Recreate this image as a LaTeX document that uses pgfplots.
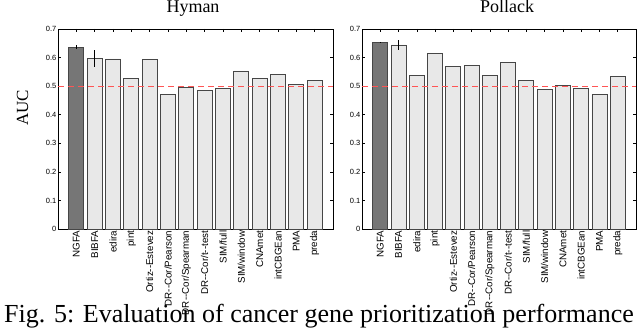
\documentclass[border=0pt]{standalone}
\usepackage{pgfplots}
\pgfplotsset{compat=1.18}
\usepackage{fontspec}
\setmainfont{Liberation Serif}
\newfontfamily\sans{Liberation Sans}
\definecolor{darkbar}{RGB}{118,118,118}
\definecolor{lightbar}{RGB}{232,232,232}
\definecolor{baredge}{RGB}{70,70,70}
\definecolor{refred}{RGB}{255,85,85}
\pgfplotsset{
  myaxis/.style={
    scale only axis, width=275pt, height=200pt,
    xmin=0, xmax=15, ymin=0, ymax=0.7,
    xtick={1,...,14},
    xticklabels={NGFA,BIBFA,edira,pint,Ortiz--Estevez,DR--Cor/Pearson,DR--Cor/Spearman,DR--Cor/t--test,SIM/full,SIM/window,CNAmet,intCBGEan,PMA,preda},
    ytick={0,0.1,0.2,0.3,0.4,0.5,0.6,0.7},
    yticklabels={0,0.1,0.2,0.3,0.4,0.5,0.6,0.7},
    x tick label style={font=\sans\fontsize{9.8}{10}\selectfont, rotate=90, anchor=east, inner sep=1.5pt},
    y tick label style={font=\sans\fontsize{7.5}{8}\selectfont, inner sep=1.5pt},
    /pgf/number format/assume math mode=true,
    tick align=inside, major tick length=3pt,
    tick style={black, line width=0.6pt},
    axis line style={black, line width=0.9pt},
    clip=false,
  },
  darkb/.style={ybar, bar shift=0pt, bar width=15pt, fill=darkbar, draw=baredge, line width=0.9pt},
  lightb/.style={ybar, bar shift=0pt, bar width=15pt, fill=lightbar, draw=baredge, line width=0.9pt},
  errb/.style={draw=none, mark=none, forget plot, error bars/.cd, y dir=both, y explicit, error mark=none, error bar style={black, line width=1.1pt}},
}
\begin{document}
\begin{tikzpicture}[x=1pt,y=1pt]
\useasboundingbox (0,0) rectangle (640,336);
% Hyman
\begin{axis}[myaxis, at={(58pt,107pt)}, anchor=south west]
\addplot[darkb] coordinates {(1,0.637)};
\addplot[lightb] coordinates {(2,0.597) (3,0.595) (4,0.526) (5,0.593) (6,0.471) (7,0.495) (8,0.485) (9,0.492) (10,0.553) (11,0.527) (12,0.541) (13,0.505) (14,0.519)};
\addplot[errb] coordinates {(1,0.637) +- (0,0.006) (2,0.597) +- (0,0.030)};
\addplot[refred, dashed, dash pattern=on 6pt off 4pt, line width=1.1pt, mark=none] coordinates {(0,0.5) (15,0.5)};
\end{axis}
% Pollack
\begin{axis}[myaxis, at={(362pt,107pt)}, anchor=south west, width=274pt]
\addplot[darkb] coordinates {(1,0.653)};
\addplot[lightb] coordinates {(2,0.644) (3,0.538) (4,0.613) (5,0.569) (6,0.572) (7,0.536) (8,0.583) (9,0.521) (10,0.487) (11,0.501) (12,0.491) (13,0.471) (14,0.535)};
\addplot[errb] coordinates {(1,0.653) +- (0,0.003) (2,0.644) +- (0,0.016)};
\addplot[refred, dashed, dash pattern=on 6pt off 4pt, line width=1.1pt, mark=none] coordinates {(0,0.5) (15,0.5)};
\end{axis}
\node[anchor=base, font=\fontsize{18}{20}\selectfont] at (193,323) {Hyman};
\node[anchor=base, font=\fontsize{18}{20}\selectfont] at (507,323) {Pollack};
\node[anchor=base, rotate=90, font=\fontsize{17}{19}\selectfont] at (28,228) {AUC};
\node[anchor=base, font=\fontsize{26}{28}\selectfont, inner sep=0pt] at (319,13) {Fig. 5: Evaluation of cancer gene prioritization performance};
\end{tikzpicture}
\end{document}
